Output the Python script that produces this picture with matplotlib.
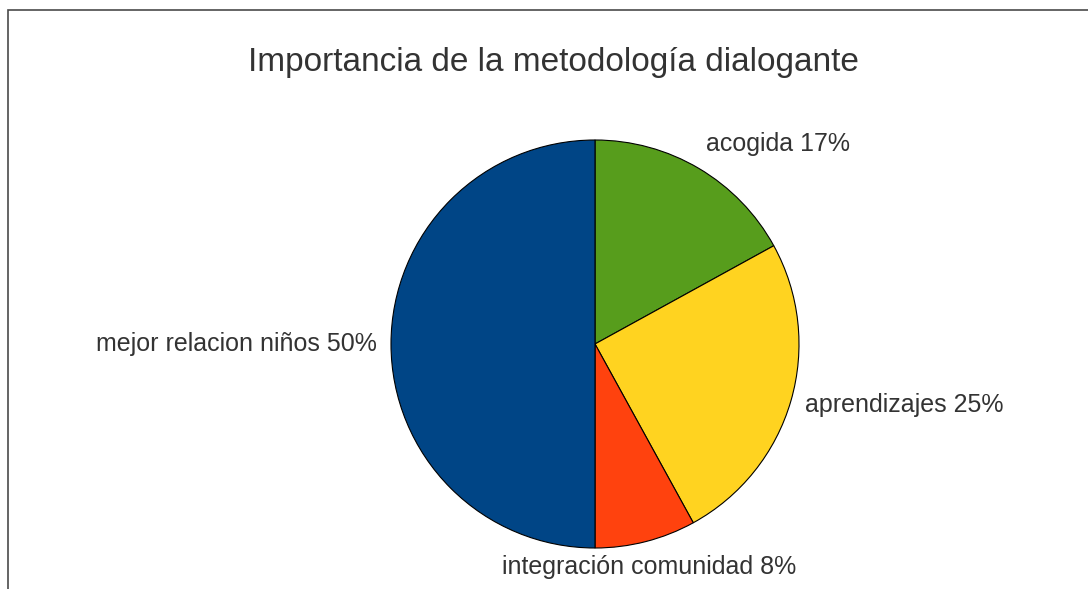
import matplotlib
matplotlib.use("Agg")
import matplotlib.pyplot as plt
from matplotlib.patches import Rectangle

labels = ["acogida", "aprendizajes", "integración comunidad", "mejor relacion niños"]
values = [17, 25, 8, 50]
colors = ["#579d1c", "#ffd320", "#ff420e", "#004586"]

W, H = 1088, 589
plt.rcParams["font.family"] = ["Liberation Sans", "DejaVu Sans"]

fig = plt.figure(figsize=(W / 100, H / 100), dpi=100)
ax = fig.add_axes([0, 0, 1, 1])
ax.axis("off")

# frame (left + top edges only visible)
fig.add_artist(Rectangle((8 / W, -0.05), 1.1, (H - 10) / H + 0.05,
                         transform=fig.transFigure, fill=False,
                         edgecolor="#4a4a4a", linewidth=1.2))

texts_lbl = [f"{l} {v}%" for l, v in zip(labels, values)]
wedges, texts = ax.pie(values, labels=texts_lbl, colors=colors,
                       startangle=90, counterclock=False,
                       center=(595, H - 344), radius=204,
                       labeldistance=1.07,
                       wedgeprops=dict(edgecolor="black", linewidth=0.8),
                       textprops=dict(fontsize=18, color="#333333"))
ax.set_xlim(0, W)
ax.set_ylim(0, H)
ax.set_aspect("equal")

# pie picks alignment from absolute x, fix it
texts[0].set_va("bottom")
texts[3].set_ha("right")
texts[2].set_ha("center")
texts[2].set_va("top")

ax.text(553, H - 62, "Importancia de la metodología dialogante",
        ha="center", va="center", fontsize=24, color="#333333")

fig.savefig("out.png", dpi=100)
